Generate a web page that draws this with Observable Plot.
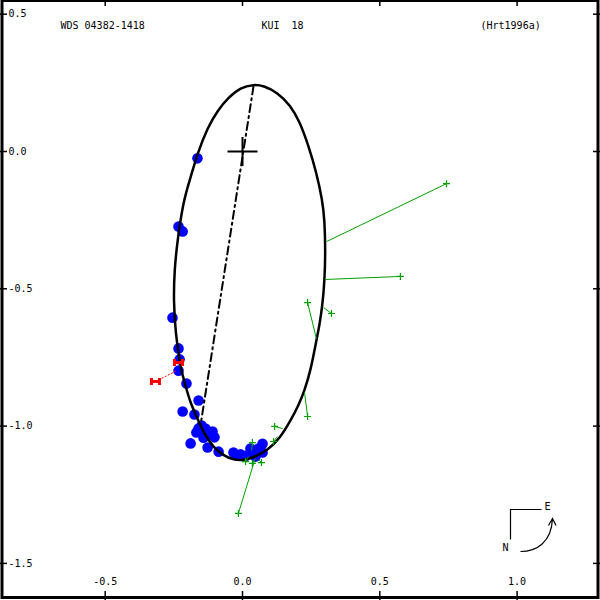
<!DOCTYPE html>
<html><head><meta charset="utf-8">
<script src="https://cdn.jsdelivr.net/npm/d3@7"></script>
<script src="https://cdn.jsdelivr.net/npm/@observablehq/plot@0.6"></script>
<style>body{margin:0;background:#fff} svg text{white-space:pre}</style>
</head><body><div id="chart"></div>
<script>
// ---- tick values / labels ----
const xTicks = [-0.5, 0, 0.5, 1.0];
const yTicks = [0.5, 0, -0.5, -1.0, -1.5];
const titleLeft = "WDS 04382-1418";
const titleMid = "KUI  18";
const titleRight = "(Hrt1996a)";

// ---- visual measures (blue dots) ----
const blueX = [-0.164,-0.233,-0.218,-0.255,-0.233,-0.229,-0.233,-0.204,-0.160,-0.218,-0.175,-0.160,-0.135,-0.109,-0.142,-0.127,-0.189,-0.087,-0.033,-0.007,0.029,0.058,0.073,0.047,-0.168,-0.131,-0.102,-0.149,-0.022,0.015,0.073];
const blueY = [-0.025,-0.273,-0.291,-0.605,-0.717,-0.757,-0.798,-0.845,-0.907,-0.947,-0.958,-1.009,-1.009,-1.020,-1.042,-1.078,-1.063,-1.093,-1.096,-1.103,-1.082,-1.082,-1.096,-1.111,-1.023,-1.034,-1.041,-0.998,-1.107,-1.107,-1.064];

// ---- other measures (green) and their predicted positions ----
const greenObsX = [0.743,0.575,0.237,0.324,0.237,0.117,0.113,0.036,0.011,0.036,0.069,-0.015];
const greenObsY = [-0.117,-0.455,-0.550,-0.590,-0.965,-1.001,-1.056,-1.060,-1.129,-1.136,-1.133,-1.318];
const greenFitX = [0.306,0.302,0.269,0.295,0.226,0.146,0.127,0.033,0.022,0.047,0.058,0.044];
const greenFitY = [-0.328,-0.466,-0.681,-0.568,-0.878,-1.009,-1.038,-1.089,-1.111,-1.118,-1.122,-1.125];

// ---- speckle measures (red) ----
const redObsX = [-0.233,-0.317];
const redObsY = [-0.768,-0.838];
const redFitX = [-0.231,-0.240];
const redFitY = [-0.768,-0.798];

// ---- apparent orbit (read along the drawn ellipse) ----
const orbitX = [0.040,0.076,0.127,0.175,0.208,0.240,0.269,0.291,0.299,0.302,0.299,0.291,0.280,0.269,0.248,0.226,0.204,0.175,0.138,0.091,0.040,0.004,-0.036,-0.069,-0.106,-0.142,-0.164,-0.189,-0.208,-0.226,-0.244,-0.251,-0.248,-0.237,-0.215,-0.189,-0.164,-0.127,-0.091,-0.051,-0.007];
const orbitY = [0.244,0.240,0.215,0.168,0.109,0.022,-0.076,-0.178,-0.251,-0.361,-0.470,-0.561,-0.634,-0.688,-0.798,-0.870,-0.925,-0.980,-1.042,-1.089,-1.114,-1.125,-1.122,-1.107,-1.078,-1.023,-0.972,-0.918,-0.852,-0.787,-0.663,-0.543,-0.433,-0.324,-0.178,-0.095,-0.007,0.087,0.149,0.197,0.233];

// ---- line of apsides ----
const apsX = [0.040,-0.153];
const apsY = [0.237,-0.998];

// ---- primary ----
const primaryX = [0];
const primaryY = [0];

const blue = blueX.map((x,i)=>({x, y: blueY[i]}));
const green = greenObsX.map((x,i)=>({ox:x, oy:greenObsY[i], ex:greenFitX[i], ey:greenFitY[i]}));
const red = redObsX.map((x,i)=>({ox:x, oy:redObsY[i], ex:redFitX[i], ey:redFitY[i]}));
const orbit = orbitX.map((x,i)=>({x, y: orbitY[i]}));
const aps = apsX.map((x,i)=>({x, y: apsY[i]}));
const primary = primaryX.map((x,i)=>({x, y: primaryY[i]}));

const plusSym = {draw(c){ c.moveTo(-3.5,0); c.lineTo(3.5,0); c.moveTo(0,-3.5); c.lineTo(0,3.5); }};
const crossSym = {draw(c){ c.moveTo(-15,0); c.lineTo(15,0); c.moveTo(0,-14.5); c.lineTo(0,14.5); }};
const hSym = {draw(c){ c.moveTo(-4,-3.5); c.lineTo(-4,3.5); c.moveTo(4,-3.5); c.lineTo(4,3.5); c.moveTo(-4,0); c.lineTo(4,0); }};
const compassSym = {draw(c){
  c.moveTo(31,0); c.lineTo(0,0); c.lineTo(0,30);
  c.moveTo(10,42); c.bezierCurveTo(26,42, 41,33, 42,9);
  c.moveTo(38,16); c.lineTo(42,9); c.lineTo(45.5,16);
}};

const fmt = d => d.toFixed(1);
const GREEN = "#00a000";

const chart = Plot.plot({
  width: 600, height: 600,
  marginLeft: 0, marginRight: 0, marginTop: 0, marginBottom: 0,
  x: {domain: [-0.8813, 1.3037], axis: null},
  y: {domain: [-1.6351, 0.5499], axis: null},
  style: {fontFamily: "DejaVu Sans Mono", fontSize: "10px", background: "white", color: "black"},
  marks: [
    Plot.dot(blue, {x: "x", y: "y", r: 5.3, fill: "#0000ff", stroke: "none"}),
    Plot.line(orbit, {x: "x", y: "y", curve: "basis-closed", stroke: "black", strokeWidth: 2.5}),
    Plot.line(aps, {x: "x", y: "y", stroke: "black", strokeWidth: 2, strokeDasharray: "8,4,2,4"}),
    Plot.link(green, {x1: "ox", y1: "oy", x2: "ex", y2: "ey", stroke: GREEN, strokeWidth: 1}),
    Plot.dot(green, {x: "ox", y: "oy", symbol: plusSym, fill: "none", stroke: GREEN, strokeWidth: 1.2}),
    Plot.link(red, {x1: "ox", y1: "oy", x2: "ex", y2: "ey", stroke: "red", strokeWidth: 1, strokeDasharray: "2,1.5"}),
    Plot.dot(red, {x: "ox", y: "oy", symbol: hSym, fill: "none", stroke: "red", strokeWidth: 3}),
    Plot.dot(primary, {x: "x", y: "y", symbol: crossSym, fill: "none", stroke: "black", strokeWidth: 2}),
    Plot.frame({stroke: "black", strokeWidth: 3, insetLeft: 1.5, insetRight: 2.5, insetTop: 0, insetBottom: 3}),
    Plot.ruleX(xTicks, {x: d => d, insetTop: 591, stroke: "black", strokeWidth: 1.5}),
    Plot.ruleX(xTicks, {x: d => d, insetBottom: 594, stroke: "black", strokeWidth: 1.5}),
    Plot.ruleY(yTicks, {y: d => d, insetRight: 593, stroke: "black", strokeWidth: 1.5}),
    Plot.ruleY(yTicks, {y: d => d, insetLeft: 593, stroke: "black", strokeWidth: 1.5}),
    Plot.text(xTicks, {x: d => d, frameAnchor: "bottom", dy: -16, text: fmt, fill: "black"}),
    Plot.text(yTicks, {y: d => d, frameAnchor: "left", dx: 8, textAnchor: "start", text: fmt, fill: "black"}),
    Plot.text([titleLeft], {frameAnchor: "top-left", dx: 60, dy: 25, textAnchor: "start", lineAnchor: "middle", text: d => d, fill: "black"}),
    Plot.text([titleMid], {frameAnchor: "top-left", dx: 261, dy: 25, textAnchor: "start", lineAnchor: "middle", text: d => d, fill: "black"}),
    Plot.text([titleRight], {frameAnchor: "top-left", dx: 480, dy: 25, textAnchor: "start", lineAnchor: "middle", text: d => d, fill: "black"}),
    Plot.dot([0], {frameAnchor: "bottom-right", dx: -90, dy: -91, symbol: compassSym, fill: "none", stroke: "black", strokeWidth: 1.2}),
    Plot.text(["E"], {frameAnchor: "bottom-right", dx: -50, dy: -91, text: d => d, fill: "black"}),
    Plot.text(["N"], {frameAnchor: "bottom-right", dx: -92, dy: -50, text: d => d, fill: "black"})
  ]
});
document.getElementById("chart").appendChild(chart);
</script>
</body></html>
